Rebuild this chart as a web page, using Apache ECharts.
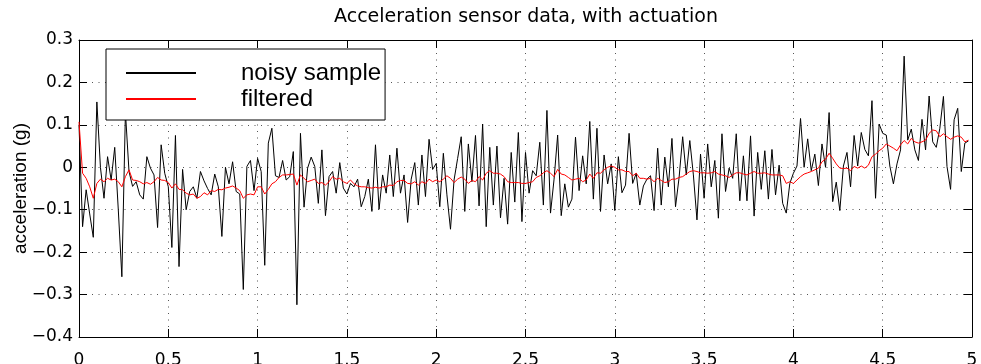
<!DOCTYPE html>
<html>
<head>
<meta charset="utf-8">
<script src="https://cdn.jsdelivr.net/npm/echarts@6/dist/echarts.min.js"></script>
<style>
html,body{margin:0;padding:0;background:#fff;}
#chart{width:981px;height:364px;}
</style>
</head>
<body>
<div id="chart"></div>
<script>
// sample period of the recorded data (s)
const DT = 0.02;

const titleText = 'Acceleration sensor data, with actuation';
const yAxisName = 'acceleration (g)';
const seriesNames = ['noisy sample', 'filtered'];

// axis ranges: [min, max, interval]
const xRange = [0, 5, 0.5];
const yRange = [-0.4, 0.3, 0.1];

// noisy accelerometer samples (g)
const noisy = [
 0.10,-0.14,-0.053,-0.11,-0.165,0.154,0.0,-0.073,0.025,-0.03,
 0.047,-0.1,-0.258,0.13,-0.01,-0.045,-0.034,-0.065,-0.075,0.025,
 -0.002,-0.018,-0.142,0.053,-0.014,-0.046,-0.189,0.075,-0.234,-0.005,
 -0.1,-0.057,-0.046,-0.073,-0.01,-0.032,-0.05,-0.065,-0.016,-0.046,
 -0.163,0.0,-0.039,0.013,-0.057,-0.063,-0.288,0.002,0.016,-0.055,
 0.021,-0.01,-0.231,0.057,0.092,-0.02,-0.024,0.016,-0.03,-0.022,
 0.037,-0.324,0.08,-0.094,-0.002,0.024,0.002,-0.085,0.041,-0.114,
 -0.022,-0.01,-0.061,0.011,-0.049,-0.063,-0.038,-0.046,-0.028,-0.093,
 -0.069,-0.028,-0.104,0.053,-0.099,-0.018,-0.061,0.029,-0.069,0.045,
 -0.061,-0.018,-0.13,-0.028,0.011,-0.089,0.029,-0.069,0.066,-0.005,
 0.009,-0.093,0.033,-0.065,-0.146,-0.03,0.021,0.072,-0.104,0.055,
 -0.034,0.075,-0.091,0.102,-0.14,0.047,-0.089,0.05,-0.119,-0.026,
 -0.134,0.035,-0.082,0.082,-0.128,0.035,-0.061,-0.008,-0.02,0.059,
 -0.089,0.134,-0.108,-0.028,0.076,-0.114,-0.039,-0.094,-0.075,0.071,
 -0.055,0.027,-0.039,0.108,-0.075,0.092,-0.104,0.029,-0.039,0.008,
 -0.102,0.025,-0.06,-0.042,0.08,-0.038,-0.014,-0.089,-0.044,-0.028,
 -0.02,-0.102,0.045,-0.089,0.024,-0.046,0.068,-0.093,-0.024,0.072,
 -0.018,0.063,-0.018,-0.124,0.031,-0.073,0.055,-0.046,0.016,-0.12,
 0.079,-0.057,-0.002,-0.026,0.079,-0.079,0.027,-0.079,0.074,-0.115,
 0.035,-0.052,0.039,-0.075,0.042,-0.065,0.005,-0.085,-0.108,-0.038,
 -0.014,0.003,0.115,0.0,0.067,-0.008,0.031,-0.043,0.055,0.0,
 0.129,-0.081,-0.035,-0.102,0.003,0.035,-0.046,0.075,0.003,0.082,
 0.042,0.027,0.157,-0.073,0.102,0.08,0.076,0.003,-0.039,0.008,
 0.041,0.262,0.064,0.09,0.041,0.016,0.113,0.041,0.168,0.06,
 0.047,0.092,0.167,0.002,-0.052,0.112,0.139,-0.01,0.057,0.062
];

// filtered estimate (g)
const filtered = [
 0.107,-0.014,-0.026,-0.046,-0.073,-0.038,-0.028,-0.034,-0.026,-0.03,
 -0.028,-0.034,-0.046,-0.022,-0.006,-0.03,-0.031,-0.034,-0.039,-0.036,
 -0.04,-0.034,-0.024,-0.03,-0.031,-0.036,-0.049,-0.039,-0.052,-0.053,
 -0.061,-0.065,-0.063,-0.073,-0.069,-0.06,-0.065,-0.055,-0.057,-0.052,
 -0.053,-0.049,-0.047,-0.044,-0.049,-0.055,-0.073,-0.065,-0.063,-0.065,
 -0.046,-0.046,-0.063,-0.052,-0.039,-0.034,-0.024,-0.018,-0.018,-0.017,
 -0.016,-0.042,-0.018,-0.026,-0.034,-0.031,-0.028,-0.038,-0.036,-0.042,
 -0.034,-0.022,-0.028,-0.026,-0.034,-0.038,-0.03,-0.039,-0.044,-0.046,
 -0.046,-0.048,-0.049,-0.047,-0.049,-0.046,-0.046,-0.042,-0.043,-0.034,
 -0.031,-0.031,-0.038,-0.039,-0.034,-0.042,-0.034,-0.038,-0.028,-0.034,
 -0.03,-0.034,-0.028,-0.02,-0.026,-0.036,-0.028,-0.023,-0.028,-0.038,
 -0.031,-0.034,-0.022,-0.03,-0.014,-0.008,-0.014,-0.014,-0.016,-0.022,
 -0.034,-0.036,-0.036,-0.036,-0.038,-0.038,-0.036,-0.034,-0.024,-0.02,
 -0.013,-0.008,-0.014,-0.022,-0.005,-0.016,-0.018,-0.024,-0.03,-0.028,
 -0.026,-0.034,-0.03,-0.016,-0.026,-0.013,-0.014,-0.006,0.0,0.003,
 0.0,-0.006,-0.006,-0.01,-0.01,-0.02,-0.014,-0.026,-0.026,-0.028,
 -0.026,-0.034,-0.026,-0.031,-0.036,-0.034,-0.028,-0.028,-0.024,-0.022,
 -0.016,-0.01,-0.008,-0.01,-0.013,-0.013,-0.014,-0.013,-0.01,-0.016,
 -0.018,-0.02,-0.024,-0.018,-0.013,-0.013,-0.016,-0.018,-0.014,-0.01,
 -0.014,-0.014,-0.013,-0.016,-0.018,-0.018,-0.018,-0.02,-0.038,-0.034,
 -0.038,-0.03,-0.022,-0.016,-0.013,-0.01,-0.006,-0.002,0.013,0.019,
 0.033,0.021,0.008,-0.002,-0.003,-0.002,-0.008,0.002,-0.002,0.003,
 -0.002,0.005,0.025,0.031,0.039,0.045,0.055,0.05,0.045,0.039,
 0.053,0.063,0.055,0.068,0.06,0.057,0.06,0.064,0.08,0.088,
 0.086,0.072,0.079,0.072,0.066,0.071,0.074,0.071,0.06,0.064
];

const toPairs = arr => arr.map((v, i) => [+(i * DT).toFixed(2), v]);

const fmtX = v => String(+(+v).toFixed(2));
const fmtY = v => {
  const r = +(+v).toFixed(1);
  if (r === 0) return '0';
  return (r < 0 ? '\u2212' : '') + Math.abs(r).toFixed(1);
};

const tickFont = { fontSize: 17, fontFamily: 'DejaVu Sans', color: '#000' };
const dotted = { show: true, lineStyle: { color: '#555', width: 1, type: [1, 5.5] } };
const blackLine = { show: true, onZero: false, lineStyle: { color: '#000', width: 1 } };
const innerTick = { show: true, inside: true, length: 8, lineStyle: { color: '#000', width: 1 } };

const chart = echarts.init(document.getElementById('chart'), null, { renderer: 'canvas' });
chart.setOption({
  animation: false,
  backgroundColor: '#fff',
  title: {
    text: titleText,
    left: 521,
    textAlign: 'center',
    top: 3,
    textStyle: { fontSize: 19, fontWeight: 'normal', fontFamily: 'DejaVu Sans', color: '#000' }
  },
  grid: { left: 79, right: 9, top: 40, bottom: 27, containLabel: false, outerBoundsMode: 'none' },
  legend: {
    data: seriesNames,
    orient: 'vertical',
    left: 106,
    top: 49,
    padding: [12, 4, 9, 19],
    itemWidth: 70,
    itemHeight: 14,
    itemGap: 2,
    backgroundColor: '#fff',
    borderColor: '#000',
    borderWidth: 1,
    borderRadius: 0,
    selectedMode: false,
    itemStyle: { opacity: 0, borderWidth: 0 },
    textStyle: { fontSize: 24, lineHeight: 14, fontFamily: 'Liberation Sans', color: '#000', padding: [3, 0, 0, 40] }
  },
  xAxis: [
    {
      type: 'value', position: 'bottom',
      min: xRange[0], max: xRange[1], interval: xRange[2],
      axisLine: blackLine, axisTick: innerTick,
      axisLabel: Object.assign({ margin: 15, formatter: fmtX }, tickFont),
      splitLine: dotted
    },
    {
      type: 'value', position: 'top',
      min: xRange[0], max: xRange[1], interval: xRange[2],
      axisLine: blackLine, axisTick: innerTick,
      axisLabel: { show: false }, splitLine: { show: false }
    }
  ],
  yAxis: [
    {
      type: 'value', position: 'left',
      min: yRange[0], max: yRange[1], interval: yRange[2],
      name: yAxisName, nameLocation: 'middle', nameGap: 49, nameRotate: 90,
      nameMoveOverlap: false,
      nameTextStyle: { fontSize: 19, fontFamily: 'Liberation Sans', color: '#000' },
      axisLine: blackLine, axisTick: innerTick,
      axisLabel: Object.assign({ margin: 6, formatter: fmtY }, tickFont),
      splitLine: dotted
    },
    {
      type: 'value', position: 'right',
      min: yRange[0], max: yRange[1], interval: yRange[2],
      axisLine: blackLine, axisTick: innerTick,
      axisLabel: { show: false }, splitLine: { show: false }
    }
  ],
  series: [
    {
      name: seriesNames[0], type: 'line', xAxisIndex: 0, yAxisIndex: 0,
      data: toPairs(noisy), symbol: 'none', showSymbol: false,
      lineStyle: { color: '#000', width: 1 }, itemStyle: { color: '#000' }, z: 2
    },
    {
      name: seriesNames[1], type: 'line', xAxisIndex: 0, yAxisIndex: 0,
      data: toPairs(filtered), symbol: 'none', showSymbol: false,
      lineStyle: { color: '#ff0000', width: 1 }, itemStyle: { color: '#ff0000' }, z: 3
    }
  ]
});
</script>
</body>
</html>
